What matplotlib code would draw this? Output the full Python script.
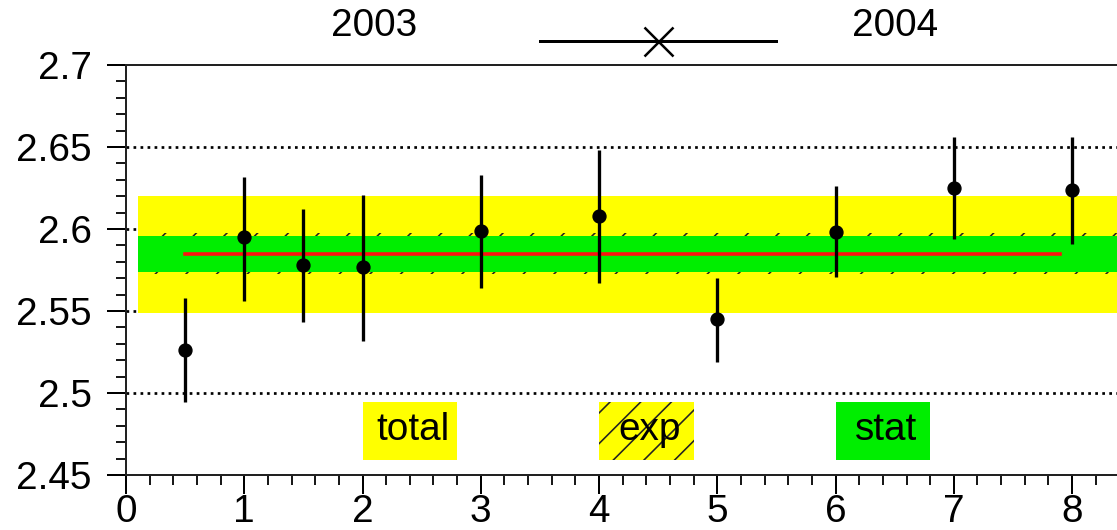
import matplotlib
matplotlib.use("Agg")
import matplotlib.pyplot as plt
from matplotlib.patches import Rectangle
from matplotlib.ticker import MultipleLocator

plt.rcParams['font.family'] = ['Liberation Sans', 'DejaVu Sans']

# data
x = [0.5, 1, 1.5, 2, 3, 4, 5, 6, 7, 8]
y = [2.526, 2.595, 2.578, 2.577, 2.599, 2.608, 2.545, 2.598, 2.625, 2.624]
err_lo = [0.0317, 0.039, 0.035, 0.045, 0.035, 0.041, 0.026, 0.027, 0.031, 0.033]
err_hi = [0.0317, 0.037, 0.034, 0.044, 0.034, 0.040, 0.025, 0.028, 0.031, 0.032]
mean = 2.585
total_band = (2.549, 2.620)
exp_band = (2.5725, 2.5975)
stat_band = (2.574, 2.596)
years = ["2003", "2004"]
legend_labels = ["total", "exp", "stat"]

DPI = 92
K = 72.0 / DPI  # pixels -> points


def P(px):
    return px * K


plt.rcParams['hatch.linewidth'] = P(1.6)

fig = plt.figure(figsize=(1117 / DPI, 530 / DPI), dpi=DPI)
ax = fig.add_axes([0.1128, 0.1038, 0.8872, 0.7736])
ax.set_xlim(0, 8.38)
ax.set_ylim(2.45, 2.7)

# dotted grid lines
for gy in [2.5, 2.55, 2.6, 2.65]:
    ax.axhline(gy, color='black', ls=(0, (1.0, 1.6)), lw=P(2.7), zorder=1)

x0, x1 = 0.1, 8.38
ax.add_patch(Rectangle((x0, total_band[0]), x1 - x0, total_band[1] - total_band[0],
                       facecolor='#ffff00', edgecolor='none', zorder=2))
ax.add_patch(Rectangle((x0, exp_band[0]), x1 - x0, exp_band[1] - exp_band[0],
                       facecolor='none', edgecolor='#222222', hatch='/', lw=0, zorder=3))
ax.add_patch(Rectangle((x0, stat_band[0]), x1 - x0, stat_band[1] - stat_band[0],
                       facecolor='#00ee00', edgecolor='none', zorder=4))
ax.plot([0.5, 7.9], [mean, mean], color='#ff1010', lw=P(3.6), zorder=5)

ax.errorbar(x, y, yerr=[err_lo, err_hi], fmt='o', color='black', ms=P(13),
            elinewidth=P(3.3), capsize=0, zorder=6)

# legend boxes
lx = [2.0, 4.0, 6.0]
colors = ['#ffff00', '#ffff00', '#00ee00']
hatches = [None, '/', None]
FS = P(38.8)
for xx, lab, c, h in zip(lx, legend_labels, colors, hatches):
    ax.add_patch(Rectangle((xx, 2.459), 0.8, 0.0355, facecolor=c,
                           edgecolor='#222222' if h else 'none', hatch=h, lw=0, zorder=3))
    ax.text(xx + 0.43, 2.4775, lab, ha='center', va='center', fontsize=FS, zorder=7)

# top annotations
ax.text(2.1, 2.7235, years[0], ha='center', va='center', fontsize=FS, clip_on=False)
ax.text(6.5, 2.7235, years[1], ha='center', va='center', fontsize=FS, clip_on=False)
ax.plot([3.5, 5.5], [2.7146, 2.7146], color='black', lw=P(3.0), clip_on=False)
ax.plot([4.5], [2.7146], marker='x', color='black', ms=P(29), mew=P(2.5), clip_on=False)

# axes styling
ax.spines['right'].set_visible(False)
for s in ['left', 'bottom', 'top']:
    ax.spines[s].set_linewidth(P(2.0))
    ax.spines[s].set_color('#222222')
ax.xaxis.set_major_locator(MultipleLocator(1))
ax.xaxis.set_minor_locator(MultipleLocator(0.2))
ax.yaxis.set_minor_locator(MultipleLocator(0.01))
ax.set_yticks([2.45, 2.5, 2.55, 2.6, 2.65, 2.7])
ax.set_yticklabels(['2.45', '2.5', '2.55', '2.6', '2.65', '2.7'])
ax.tick_params(which='major', length=P(19), width=P(2.0), labelsize=FS, direction='out')
ax.tick_params(which='minor', length=P(10), width=P(1.8), direction='out')
ax.tick_params(axis='x', which='major', pad=P(0))
ax.tick_params(axis='y', which='major', pad=P(15))
ax.tick_params(top=False, right=False)

fig.savefig('out.png', dpi=DPI)
